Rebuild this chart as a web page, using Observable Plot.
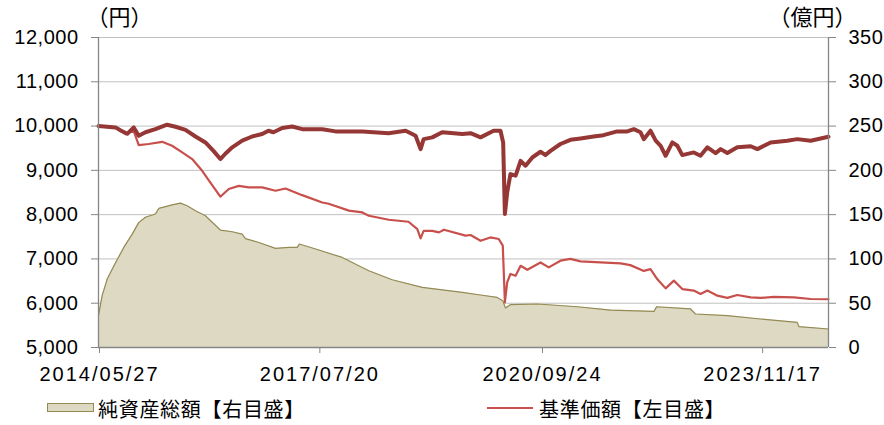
<!DOCTYPE html>
<html><head><meta charset="utf-8">
<script src="https://cdn.jsdelivr.net/npm/d3@7"></script>
<script src="https://cdn.jsdelivr.net/npm/@observablehq/plot@0.6"></script>
<style>
body{margin:0;background:#fff;}
#chart{position:relative;width:884px;height:425px;overflow:hidden;}
.lg{position:absolute;font-family:"Noto Sans CJK JP",sans-serif;font-size:20px;letter-spacing:0.7px;line-height:20px;color:#000;white-space:nowrap;}
g[aria-label="x-axis tick label"] text{letter-spacing:2px;}
g[aria-label="y-axis tick label"] text{letter-spacing:0.5px;}
</style></head><body><div id="chart"></div>
<script>
// 分配金再投資基準価額（太線・左目盛）
const reinvDates = ["2014-05-27","2014-08-24","2014-09-20","2014-10-24","2014-11-27","2014-12-23","2015-01-27","2015-03-20","2015-05-20","2015-07-03","2015-08-24","2015-10-15","2015-12-06","2016-01-17","2016-02-22","2016-03-19","2016-04-24","2016-06-15","2016-08-06","2016-09-27","2016-10-30","2016-11-25","2017-01-10","2017-03-03","2017-04-24","2017-08-07","2017-10-15","2018-03-04","2018-07-19","2018-10-16","2018-12-07","2019-01-02","2019-01-18","2019-03-04","2019-04-25","2019-08-08","2019-09-20","2019-11-11","2020-01-18","2020-02-23","2020-03-08","2020-03-17","2020-03-29","2020-04-15","2020-05-12","2020-06-07","2020-07-03","2020-08-07","2020-09-19","2020-10-15","2020-11-10","2021-01-01","2021-02-22","2021-04-16","2021-06-23","2021-08-14","2021-10-24","2021-12-16","2022-01-19","2022-02-23","2022-03-12","2022-04-16","2022-05-13","2022-06-08","2022-07-04","2022-08-08","2022-09-03","2022-09-29","2022-11-28","2023-01-02","2023-02-07","2023-03-22","2023-04-17","2023-05-22","2023-07-13","2023-09-21","2023-10-26","2024-01-03","2024-03-30","2024-05-21","2024-07-30","2024-09-20","2024-10-31"];
const reinvValues = [10000,9970,9900,9825,9970,9780,9860,9930,10030,9985,9915,9765,9630,9440,9255,9375,9520,9670,9765,9820,9895,9860,9955,9990,9930,9930,9880,9880,9840,9895,9780,9480,9705,9745,9860,9820,9840,9745,9895,9895,9630,8015,8500,8915,8880,9215,9105,9290,9420,9345,9440,9595,9690,9720,9765,9795,9880,9880,9930,9860,9705,9895,9670,9555,9330,9630,9555,9345,9405,9330,9520,9390,9480,9390,9520,9545,9480,9630,9670,9705,9670,9720,9760];

// 基準価額（左目盛）
const navDates = ["2014-05-27","2014-08-24","2014-10-15","2014-11-26","2014-12-23","2015-02-13","2015-04-24","2015-06-15","2015-08-07","2015-09-28","2015-11-19","2016-01-01","2016-02-22","2016-04-06","2016-05-28","2016-07-19","2016-09-27","2016-12-06","2017-01-27","2017-04-24","2017-08-07","2017-09-09","2017-12-24","2018-03-04","2018-04-07","2018-07-20","2018-10-31","2018-12-16","2019-01-02","2019-01-18","2019-03-04","2019-04-08","2019-05-04","2019-08-25","2019-09-20","2019-11-11","2020-01-01","2020-02-14","2020-03-06","2020-03-17","2020-03-29","2020-04-15","2020-05-12","2020-06-07","2020-07-12","2020-09-19","2020-11-01","2021-01-01","2021-02-22","2021-04-16","2021-07-29","2021-11-11","2022-01-01","2022-03-12","2022-04-16","2022-05-21","2022-07-04","2022-08-16","2022-09-29","2022-11-28","2023-01-02","2023-02-07","2023-03-31","2023-05-22","2023-07-13","2023-09-21","2023-11-12","2024-01-20","2024-05-04","2024-07-30","2024-10-31"];
const navValues = [10000,9970,9820,9895,9570,9595,9645,9555,9405,9255,8990,8725,8405,8580,8650,8615,8615,8540,8590,8440,8275,8245,8090,8050,7975,7885,7840,7675,7465,7635,7635,7600,7660,7525,7540,7410,7485,7450,7300,6020,6470,6660,6620,6845,6755,6920,6810,6960,7000,6945,6920,6900,6860,6730,6770,6545,6335,6510,6320,6285,6210,6285,6170,6120,6185,6130,6120,6145,6130,6095,6090];

// 純資産総額（億円・右目盛）
const aumDates = ["2014-05-27","2014-06-15","2014-07-11","2014-08-15","2014-10-06","2014-11-19","2014-12-23","2015-01-27","2015-03-20","2015-04-07","2015-06-15","2015-07-29","2015-09-02","2015-10-15","2015-12-06","2016-02-22","2016-04-24","2016-06-15","2016-07-02","2016-09-10","2016-12-06","2017-02-13","2017-03-29","2017-04-10","2017-07-03","2017-11-19","2018-04-07","2018-08-07","2019-01-11","2019-08-08","2019-11-11","2020-02-06","2020-03-06","2020-03-20","2020-04-15","2020-09-02","2021-03-30","2021-09-20","2022-05-04","2022-05-18","2022-11-11","2022-12-07","2023-05-22","2023-11-12","2024-05-21","2024-05-30","2024-10-31"];
const aumValues = [36,58.5,77,92,113,128,141,147,150.7,157,161,163,160,154.4,148.8,132.6,130.7,128,123,118.6,111.9,113,113,116.8,111.2,101.7,86.7,76.5,67.8,62.2,59.3,56.5,52.8,44.6,48.3,49.1,46,42.3,40.7,46,43.5,37.8,35.9,32.2,28.3,23.5,20.9];

const leftTicks = [5000,6000,7000,8000,9000,10000,11000,12000];
const rightTicks = [0,50,100,150,200,250,300,350];
const xTickLabels = ["2014/05/27","2017/07/20","2020/09/24","2023/11/17"];
const xDomain = ["2014-05-27","2024-10-31"];

const parse = d3.utcParse("%Y-%m-%d");
const parseSlash = d3.utcParse("%Y/%m/%d");
const toLeft = v => 5000 + (v - rightTicks[0]) * (leftTicks[leftTicks.length-1]-leftTicks[0]) / (rightTicks[rightTicks.length-1]-rightTicks[0]);
const fromLeft = v => (v - 5000) * (rightTicks[rightTicks.length-1]-rightTicks[0]) / (leftTicks[leftTicks.length-1]-leftTicks[0]);

const reinv = reinvDates.map((d,i)=>({date:parse(d), v:reinvValues[i]}));
const nav = navDates.map((d,i)=>({date:parse(d), v:navValues[i]}));
const aum = aumDates.map((d,i)=>({date:parse(d), v:toLeft(aumValues[i])}));
const xd = xDomain.map(parse);
const axisColor = "#868686";

const plot = Plot.plot({
  width: 884, height: 390,
  marginLeft: 98, marginRight: 56, marginTop: 37, marginBottom: 43,
  style: {fontFamily: "'Liberation Sans', Arial, sans-serif", fontSize: "20px", color: "#000", background: "#fff", overflow: "visible"},
  x: {type: "utc", domain: xd},
  y: {domain: [leftTicks[0], leftTicks[leftTicks.length-1]]},
  marks: [
    Plot.ruleY(leftTicks, {stroke: "#c0c0c0", strokeWidth: 1}),
    Plot.areaY(aum, {x: "date", y1: leftTicks[0], y2: "v", fill: "#ddd9c3", curve: "linear"}),
    Plot.lineY(aum, {x: "date", y: "v", stroke: "#948a54", strokeWidth: 1.2}),
    Plot.lineY(nav, {x: "date", y: "v", stroke: "#c8504c", strokeWidth: 2.2}),
    Plot.lineY(reinv, {x: "date", y: "v", stroke: "#953735", strokeWidth: 4, strokeLinejoin: "round"}),
    Plot.ruleX([xd[0]], {stroke: axisColor, strokeWidth: 1.3}),
    Plot.ruleX([xd[1]], {stroke: axisColor, strokeWidth: 1.3}),
    Plot.ruleY([leftTicks[0]], {stroke: axisColor, strokeWidth: 1.3}),
    Plot.axisY({ticks: leftTicks, anchor: "left", tickSize: 7, tickPadding: 13, tickFormat: d3.format(","), label: null, stroke: axisColor}),
    Plot.axisY({ticks: leftTicks, anchor: "right", tickSize: 7, tickPadding: 13, tickFormat: d => String(fromLeft(d)), label: null, stroke: axisColor}),
    Plot.axisX({ticks: xTickLabels.map(s => parseSlash(s)), tickSize: 6, tickPadding: 13, dx: 1, tickFormat: d3.utcFormat("%Y/%m/%d"), label: null, stroke: axisColor}),
    Plot.text(["（円）"], {frameAnchor: "top-left", textAnchor: "start", lineAnchor: "middle", dx: -12, dy: -20, fontSize: 22, fontFamily: "Noto Sans CJK JP"}),
    Plot.text(["（億円）"], {frameAnchor: "top-right", textAnchor: "end", lineAnchor: "middle", dx: 28, dy: -20, fontSize: 22, fontFamily: "Noto Sans CJK JP"})
  ]
});
const chart = document.getElementById("chart");
chart.appendChild(plot);

// legend
const sw1 = document.createElement("div");
sw1.style.cssText = "position:absolute;left:47px;top:403px;width:45px;height:7px;background:#ddd9c3;border:1px solid #948a54;";
chart.appendChild(sw1);
const t1 = document.createElement("div");
t1.className = "lg"; t1.style.left = "98px"; t1.style.top = "399px";
t1.textContent = "純資産総額【右目盛】";
chart.appendChild(t1);
const sw2 = document.createElement("div");
sw2.style.cssText = "position:absolute;left:487px;top:407px;width:46px;height:2px;background:#c8504c;";
chart.appendChild(sw2);
const t2 = document.createElement("div");
t2.className = "lg"; t2.style.left = "539px"; t2.style.top = "399px";
t2.textContent = "基準価額【左目盛】";
chart.appendChild(t2);
</script></body></html>
